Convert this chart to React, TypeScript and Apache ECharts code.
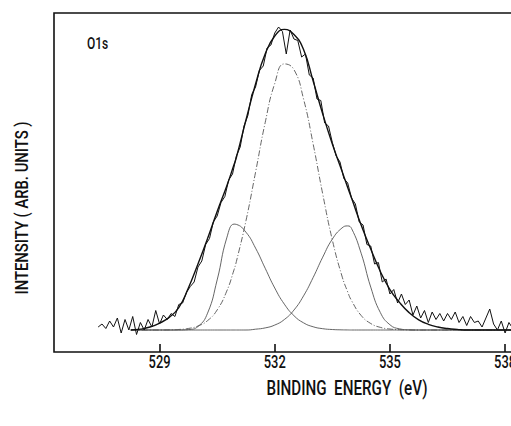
import React, { useEffect, useRef } from "react";
import * as echarts from "echarts";

// Binding energies (eV) of the fitted curves
const fitEnergy = [
  528.25, 528.5, 528.75, 529, 529.25, 529.5, 529.75, 530, 530.25, 530.5, 530.75,
  530.94, 531, 531.25, 531.5, 531.75, 532, 532.25, 532.5, 532.75, 533, 533.25, 533.5,
  533.75, 533.9, 534, 534.25, 534.5, 534.75, 535, 535.25, 535.5, 535.75, 536, 536.25,
  536.5, 536.75, 537, 537.25, 537.5, 537.75, 538, 538.25, 538.5, 538.75, 539,
];
// Envelope (sum fit)
const envelope = [
  0, 0.3, 1.0, 2.3, 4.2, 7.5, 14, 22, 30.5, 39.5, 48,
  55.2, 57.5, 70, 82, 92, 98, 100.2, 98.5, 93.5, 83, 72, 62,
  53, 47.5, 44, 35, 27, 19.5, 13.5, 9.2, 5.8, 3.4, 1.9, 1.0,
  0.5, 0.2, 0, 0, 0, 0, 0, 0, 0, 0, 0,
];
// Main component (~532.3 eV)
const mainPeak = [
  0, 0, 0, 0, 0.05, 0.18, 0.51, 1.33, 3.13, 6.69, 12.97,
  20.1, 22.8, 36.4, 52.6, 69.1, 82.2, 88.7, 86.8, 77.0, 62.0, 45.3, 30.0,
  18.0, 12.7, 9.8, 4.85, 2.17, 0.88, 0.33, 0.11, 0.03, 0, 0, 0,
  0, 0, 0, 0, 0, 0, 0, 0, 0, 0, 0,
];
// Low binding energy component (~530.9 eV)
const lowPeak = [
  0, 0, 0, 0, 0, 0.01, 0.15, 1.17, 5.62, 16.7, 30.7,
  35.3, 35.2, 32.6, 27.3, 20.6, 14.0, 8.62, 4.78, 2.39, 1.08, 0.44, 0.16,
  0.05, 0.02, 0, 0, 0, 0, 0, 0, 0, 0, 0, 0,
  0, 0, 0, 0, 0, 0, 0, 0, 0, 0, 0,
];
// High binding energy component (~533.9 eV)
const highPeak = [
  0, 0, 0, 0, 0, 0, 0, 0, 0, 0, 0,
  0, 0, 0, 0.27, 0.7, 1.65, 3.49, 6.65, 11.38, 17.5, 24.3, 30.3,
  34.0, 34.7, 33.85, 25.6, 14.3, 5.83, 1.75, 0.39, 0.06, 0, 0, 0,
  0, 0, 0, 0, 0, 0, 0, 0, 0, 0, 0,
];

// Measured spectrum
const dataEnergy = [
  527.4, 527.5, 527.6, 527.7, 527.8, 527.9,
  528.0, 528.1, 528.2, 528.3, 528.4, 528.5, 528.6, 528.7, 528.8, 528.9,
  529.0, 529.1, 529.2, 529.3, 529.4, 529.5, 529.6, 529.7, 529.8, 529.9,
  530.0, 530.1, 530.2, 530.3, 530.4, 530.5, 530.6, 530.7, 530.8, 530.9,
  531.0, 531.1, 531.2, 531.3, 531.4, 531.5, 531.6, 531.7, 531.8, 531.9,
  532.0, 532.1, 532.2, 532.3, 532.4, 532.5, 532.6, 532.7, 532.8, 532.9,
  533.0, 533.1, 533.2, 533.3, 533.4, 533.5, 533.6, 533.7, 533.8, 533.9,
  534.0, 534.1, 534.2, 534.3, 534.4, 534.5, 534.6, 534.7, 534.8, 534.9,
  535.0, 535.1, 535.2, 535.3, 535.4, 535.5, 535.6, 535.7, 535.8, 535.9,
  536.0, 536.1, 536.2, 536.3, 536.4, 536.5, 536.6, 536.7, 536.8, 536.9,
  537.0, 537.1, 537.2, 537.3, 537.4, 537.5, 537.6, 537.7, 537.8, 537.9,
  538.0, 538.1, 538.2,
];
const dataIntensity = [
  1, 2, 0.5, 3, 1, 4,
  -1, 3.5, 0, 4.5, -1.5, 2.5, 0, 3.5, 1, 6.5,
  2, 5, 3.5, 5.5, 4.5, 8.5, 9, 12.5, 14.5, 16,
  21, 23, 28.5, 30.5, 36, 38, 42.5, 44.5, 50, 52,
  58, 61, 68, 71.5, 78.5, 81, 86.5, 88, 94, 95,
  99, 101, 99.5, 92, 100, 97, 96.5, 91, 92, 85,
  84, 77, 76.5, 69, 68, 62.5, 58, 56, 50.5, 49,
  44, 42, 36, 35, 28.5, 28, 22, 22.5, 16, 17,
  12, 13.5, 9, 12, 8.5, 10, 5, 8, 4, 6.5,
  2.5, 6, 3.5, 5.5, 3, 5.5, 3.5, 6, 2.5, 4.5,
  1.5, 4.5, 2.5, 3, 1, 4, 7, 2, 0, 3,
  -1, 2.5, 0.5,
];

const xTicks = [529, 532, 535, 538];
const X_MIN = 526.25;
const X_MAX = 539;
const Y_MIN = -7.33;
const Y_MAX = 105.67;

const FONT = "Roboto, sans-serif";

export default function App() {
  const ref = useRef<HTMLDivElement>(null);
  useEffect(() => {
    if (!ref.current) return;
    const chart = echarts.init(ref.current, undefined, { renderer: "svg" });
    const pairs = (xs: number[], ys: number[]) => xs.map((x, i) => [x, ys[i]]);
    const comp = (name: string, ys: number[], type: any, color: string, width: number) => ({
      name,
      type: "line",
      data: pairs(fitEnergy, ys),
      smooth: 0.5,
      showSymbol: false,
      lineStyle: { color, width, type },
      z: 2,
    });
    chart.setOption({
      animation: false,
      backgroundColor: "#ffffff",
      grid: {
        show: true,
        left: 54,
        top: 13,
        width: 489.5,
        height: 339,
        outerBoundsMode: "none",
        containLabel: false,
        borderColor: "#111",
        borderWidth: 1.6,
        backgroundColor: "transparent",
      },
      xAxis: {
        type: "value",
        min: X_MIN,
        max: X_MAX,
        position: "bottom",
        axisLine: { show: false, onZero: false },
        splitLine: { show: false },
        axisTick: {
          show: true,
          inside: true,
          length: 8,
          customValues: xTicks,
          lineStyle: { color: "#111", width: 1.6 },
        },
        axisLabel: { show: false },
      },
      yAxis: {
        type: "value",
        min: Y_MIN,
        max: Y_MAX,
        axisLine: { show: false, onZero: false },
        axisTick: { show: false },
        axisLabel: { show: false },
        splitLine: { show: false },
      },
      series: [
        comp("main", mainPeak, [6, 2, 1, 2], "#555", 0.9),
        comp("low", lowPeak, "solid", "#555", 0.9),
        comp("high", highPeak, "solid", "#555", 0.9),
        comp("envelope", envelope, "solid", "#111", 1.4),
        {
          name: "data",
          type: "line",
          data: pairs(dataEnergy, dataIntensity),
          showSymbol: false,
          lineStyle: { color: "#111", width: 1 },
          z: 3,
        },
      ],
    });

    // tick labels placed through the axis scale
    const tickLabels = xTicks.map((t, i) => {
      const p = chart.convertToPixel({ gridIndex: 0 }, [t, Y_MIN]) as number[];
      return {
        id: "tl" + i,
        type: "text",
        x: p[0],
        y: p[1] + 10,
        scaleX: 0.68,
        style: {
          text: String(t),
          font: `500 19px ${FONT}`,
          fill: "#111",
          align: "center",
          verticalAlign: "middle",
        },
      };
    });

    chart.setOption({
      graphic: [
        ...tickLabels,
        {
          id: "o1s",
          type: "text",
          x: 87,
          y: 43,
          scaleX: 0.75,
          style: { text: "O1s", font: `500 16px ${FONT}`, fill: "#111", align: "left", verticalAlign: "middle" },
        },
        {
          id: "ytitle",
          type: "text",
          x: 21,
          y: 208,
          rotation: Math.PI / 2,
          scaleX: 0.78,
          style: {
            text: "INTENSITY ( ARB. UNITS )",
            font: `500 19px ${FONT}`,
            fill: "#111",
            align: "center",
            verticalAlign: "middle",
          },
        },
        {
          id: "xtitle",
          type: "text",
          x: 347,
          y: 388,
          scaleX: 0.76,
          style: {
            text: "BINDING  ENERGY  (eV)",
            font: `500 20px ${FONT}`,
            fill: "#111",
            align: "center",
            verticalAlign: "middle",
          },
        },
      ],
    });
    return () => chart.dispose();
  }, []);
  return (
    <div
      ref={ref}
      style={{ position: "fixed", left: 0, top: 0, width: 511, height: 426, background: "#fff" }}
    />
  );
}
